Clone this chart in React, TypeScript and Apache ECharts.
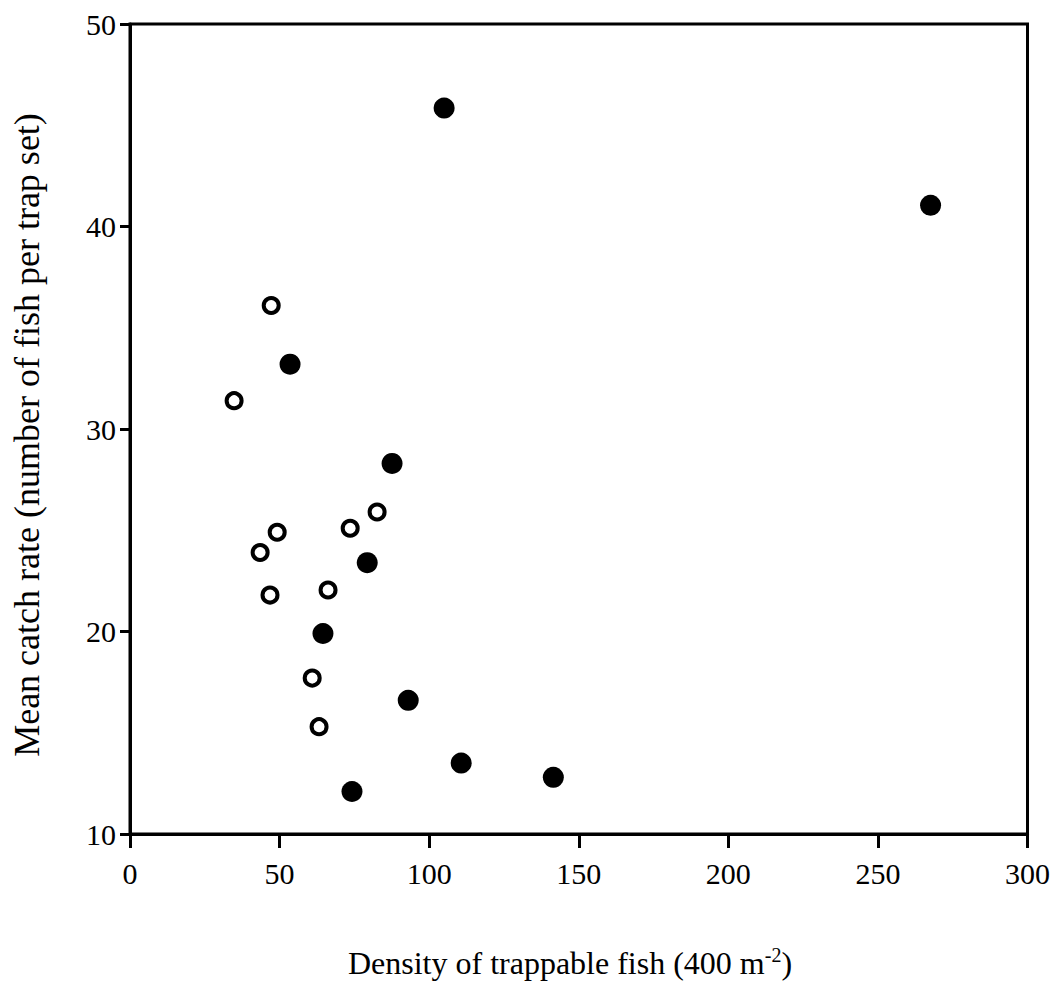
import React, { useEffect, useRef } from "react";
import * as echarts from "echarts";

// Filled circles (series A)
const filledX = [105, 267.6, 53.5, 87.6, 79.3, 64.5, 93, 110.7, 141.5, 74.2];
const filledY = [45.85, 41.05, 33.2, 28.3, 23.4, 19.9, 16.6, 13.5, 12.8, 12.1];
// Open circles (series B)
const openX = [47.2, 34.8, 82.6, 73.6, 49.2, 43.5, 46.8, 66.2, 60.9, 63.2];
const openY = [36.1, 31.4, 25.9, 25.1, 24.9, 23.9, 21.8, 22.05, 17.7, 15.3];

const xTitle = "Density of trappable fish (400 m";
const yTitle = "Mean catch rate (number of fish per trap set)";

const FONT = "Liberation Serif";

export default function App() {
  const ref = useRef<HTMLDivElement>(null);
  useEffect(() => {
    if (!ref.current) return;
    const chart = echarts.init(ref.current, null, { renderer: "svg" });
    chart.setOption({
      animation: false,
      backgroundColor: "#fff",
      grid: {
        left: 130,
        top: 24,
        right: 25,
        bottom: 151,
        show: true,
        borderColor: "#000",
        borderWidth: 3,
        backgroundColor: "transparent",
      },
      xAxis: {
        type: "value",
        min: 0,
        max: 300,
        interval: 50,
        splitLine: { show: false },
        axisLine: { show: true, lineStyle: { color: "#000", width: 3 } },
        axisTick: { show: true, inside: false, length: 14, lineStyle: { color: "#000", width: 3 } },
        axisLabel: { color: "#000", fontFamily: FONT, fontSize: 30, margin: 24 },
      },
      yAxis: {
        type: "value",
        min: 10,
        max: 50,
        interval: 10,
        splitLine: { show: false },
        axisLine: { show: true, lineStyle: { color: "#000", width: 3 } },
        axisTick: { show: true, inside: false, length: 10, lineStyle: { color: "#000", width: 3 } },
        axisLabel: { color: "#000", fontFamily: FONT, fontSize: 30, margin: 14 },
      },
      graphic: [
        {
          type: "text",
          x: 570,
          y: 963,
          style: {
            text: xTitle + "{sup|-2}" + ")",
            fill: "#000",
            font: `32px "${FONT}"`,
            align: "center",
            verticalAlign: "middle",
            rich: {
              sup: { fontSize: 20, fontFamily: FONT, verticalAlign: "top", padding: [0, 0, 16, 0], fill: "#000" },
            },
          },
        },
        {
          type: "text",
          x: 27,
          y: 435,
          rotation: Math.PI / 2,
          style: {
            text: yTitle,
            fill: "#000",
            font: `36px "${FONT}"`,
            align: "center",
            verticalAlign: "middle",
          },
        },
      ],
      series: [
        {
          type: "scatter",
          data: filledX.map((x, i) => [x, filledY[i]]),
          symbol: "circle",
          symbolSize: 21,
          itemStyle: { color: "#000", opacity: 1 },
        },
        {
          type: "scatter",
          data: openX.map((x, i) => [x, openY[i]]),
          symbol: "circle",
          symbolSize: 15,
          itemStyle: { color: "#fff", borderColor: "#000", borderWidth: 4, opacity: 1 },
        },
      ],
    });
    return () => chart.dispose();
  }, []);
  return <div ref={ref} style={{ width: 1053, height: 985, position: "absolute", left: 0, top: 0 }} />;
}
